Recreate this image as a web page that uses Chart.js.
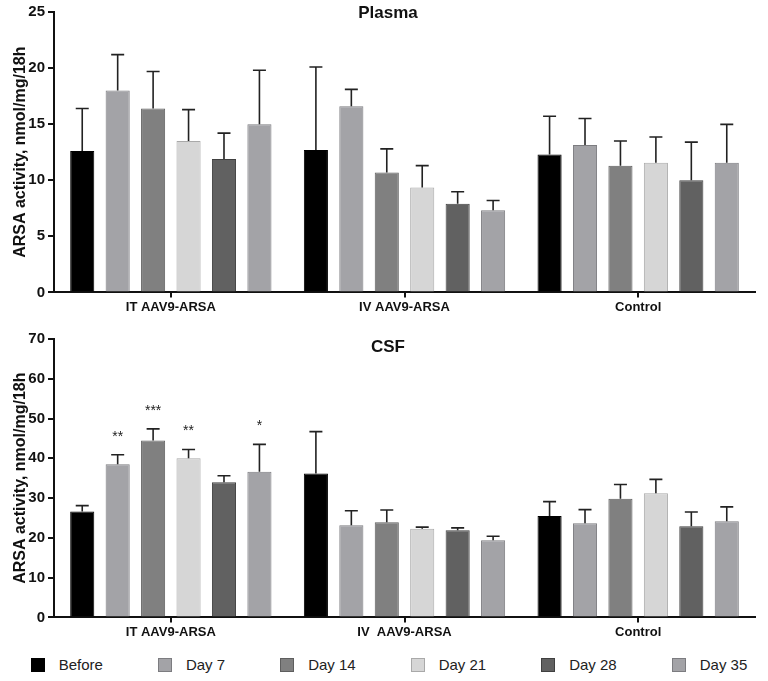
<!DOCTYPE html>
<html>
<head>
<meta charset="utf-8">
<script src="https://cdn.jsdelivr.net/npm/chart.js@4.4.0/dist/chart.umd.min.js"></script>
<style>
  body { margin: 0; background: #fff; font-family: "Liberation Sans", Arial, sans-serif; }
  #wrap { width: 768px; height: 681px; position: relative; }
  .box { position: relative; width: 768px; }
  #legend { display: flex; justify-content: center; gap: 55px; padding-left: 10px; height: 29px; align-items: center; font-size: 15px; color: #222; }
  #legend span.sw { display: inline-block; width: 14px; height: 14px; margin-right: 14px; vertical-align: -2px; box-sizing: border-box; border: 1px solid; }
</style>
</head>
<body>
<div id="wrap">
  <div class="box" style="height:320px"><canvas id="plasmaChart"></canvas></div>
  <div class="box" style="height:330px"><canvas id="csfChart"></canvas></div>
  <div id="legend"></div>
</div>
<script>
// categories
const plasmaGroups = ['IT AAV9-ARSA', 'IV AAV9-ARSA', 'Control'];
const csfGroups = ['IT AAV9-ARSA', 'IV  AAV9-ARSA', 'Control'];
const days = ['Before', 'Day 7', 'Day 14', 'Day 21', 'Day 28', 'Day 35'];

// plasma means / errors, one array per day: [IT, IV, Control]
const plasmaBefore = [12.6, 12.7, 12.3];
const plasmaDay7 = [18.0, 16.6, 13.15];
const plasmaDay14 = [16.4, 10.7, 11.3];
const plasmaDay21 = [13.5, 9.35, 11.55];
const plasmaDay28 = [11.9, 7.9, 10.0];
const plasmaDay35 = [15.0, 7.33, 11.55];
const plasmaErrBefore = [3.8, 7.4, 3.4];
const plasmaErrDay7 = [3.2, 1.5, 2.35];
const plasmaErrDay14 = [3.3, 2.1, 2.2];
const plasmaErrDay21 = [2.8, 1.95, 2.3];
const plasmaErrDay28 = [2.3, 1.07, 3.4];
const plasmaErrDay35 = [4.8, 0.87, 3.43];

// CSF means / errors
const csfBefore = [26.6, 36.2, 25.5];
const csfDay7 = [38.5, 23.2, 23.7];
const csfDay14 = [44.5, 23.9, 29.85];
const csfDay21 = [40.0, 22.3, 31.2];
const csfDay28 = [34.0, 21.9, 22.9];
const csfDay35 = [36.6, 19.4, 24.2];
const csfErrBefore = [1.5, 10.5, 3.6];
const csfErrDay7 = [2.4, 3.6, 3.4];
const csfErrDay14 = [2.9, 3.1, 3.55];
const csfErrDay21 = [2.2, 0.4, 3.5];
const csfErrDay28 = [1.6, 0.6, 3.6];
const csfErrDay35 = [6.9, 1.0, 3.6];

// significance marks over the IT group in CSF, one per day
const csfStars = ['', '**', '***', '**', '', '*'];

// y axis ticks
const plasmaMax = 25, plasmaStep = 5;
const csfMax = 70, csfStep = 10;

const fills = ['#000000', '#a3a3a7', '#808080', '#d6d6d6', '#616161', '#a3a3a7'];
const borders = ['#000000', '#7c7c80', '#5e5e5e', '#a9a9a9', '#404040', '#7c7c80'];

const plasmaMeans = [plasmaBefore, plasmaDay7, plasmaDay14, plasmaDay21, plasmaDay28, plasmaDay35];
const plasmaErrs = [plasmaErrBefore, plasmaErrDay7, plasmaErrDay14, plasmaErrDay21, plasmaErrDay28, plasmaErrDay35];
const csfMeans = [csfBefore, csfDay7, csfDay14, csfDay21, csfDay28, csfDay35];
const csfErrs = [csfErrBefore, csfErrDay7, csfErrDay14, csfErrDay21, csfErrDay28, csfErrDay35];

const FONT = '"Liberation Sans", Arial, sans-serif';

// error bars (upper only) + stars + panel title
const extras = {
  id: 'extras',
  afterDatasetsDraw(chart, args, opts) {
    const ctx = chart.ctx;
    const y = chart.scales.y;
    ctx.save();
    ctx.strokeStyle = '#222';
    ctx.lineWidth = 1.6;
    chart.data.datasets.forEach((ds, d) => {
      const meta = chart.getDatasetMeta(d);
      meta.data.forEach((bar, i) => {
        const top = y.getPixelForValue(ds.data[i] + opts.errors[d][i]);
        const base = y.getPixelForValue(ds.data[i]);
        ctx.beginPath();
        ctx.moveTo(bar.x, base);
        ctx.lineTo(bar.x, top);
        ctx.moveTo(bar.x - 6.5, top);
        ctx.lineTo(bar.x + 6.5, top);
        ctx.stroke();
        if (opts.stars && i === 0 && opts.stars[d]) {
          ctx.fillStyle = '#222';
          ctx.font = '14px ' + FONT;
          ctx.textAlign = 'center';
          ctx.textBaseline = 'middle';
          ctx.fillText(opts.stars[d], bar.x, top - 18);
        }
      });
    });
    ctx.fillStyle = '#111';
    ctx.font = 'bold 17px ' + FONT;
    ctx.textAlign = 'center';
    ctx.textBaseline = 'middle';
    ctx.fillText(opts.title, chart.width / 2 + 4, opts.titleY);
    ctx.restore();
  }
};

function makeChart(id, labels, means, errs, max, step, title, titleY, padTop, padBottom, stars) {
  return new Chart(document.getElementById(id).getContext('2d'), {
    type: 'bar',
    data: {
      labels: labels,
      datasets: days.map((d, k) => ({
        label: d,
        data: means[k],
        backgroundColor: fills[k],
        borderColor: borders[k],
        borderWidth: 1,
        barPercentage: 0.68,
        categoryPercentage: 0.91
      }))
    },
    plugins: [extras],
    options: {
      responsive: true,
      maintainAspectRatio: false,
      animation: false,
      layout: { padding: { left: 0, right: 13, top: padTop, bottom: padBottom } },
      plugins: {
        legend: { display: false },
        tooltip: { enabled: false },
        extras: { errors: errs, title: title, titleY: titleY, stars: stars }
      },
      scales: {
        x: {
          border: { color: '#111', width: 2 },
          grid: { display: true, drawOnChartArea: false, offset: false, tickLength: 5, color: '#111', lineWidth: 2 },
          ticks: { color: '#111', font: { family: FONT, size: 13, weight: 'bold' }, padding: 2 }
        },
        y: {
          min: 0,
          max: max,
          afterFit(s) { s.width = 54; },
          border: { color: '#111', width: 2 },
          grid: { display: true, drawOnChartArea: false, tickLength: 6, color: '#111', lineWidth: 2 },
          ticks: { stepSize: step, color: '#111', font: { family: FONT, size: 15, weight: 'bold' }, padding: 3 },
          title: { display: true, text: 'ARSA activity, nmol/mg/18h', color: '#111', font: { family: FONT, size: 16, weight: 'bold' }, padding: { top: 11, bottom: 0 } }
        }
      }
    }
  });
}

makeChart('plasmaChart', plasmaGroups, plasmaMeans, plasmaErrs, plasmaMax, plasmaStep, 'Plasma', 13, 6, 3, null);
makeChart('csfChart', csfGroups, csfMeans, csfErrs, csfMax, csfStep, 'CSF', 27, 19, 8, csfStars);

// legend
const lg = document.getElementById('legend');
days.forEach((d, k) => {
  const it = document.createElement('div');
  it.innerHTML = '<span class="sw" style="background:' + fills[k] + ';border-color:' + borders[k] + '"></span>' + d;
  lg.appendChild(it);
});
</script>
</body>
</html>
